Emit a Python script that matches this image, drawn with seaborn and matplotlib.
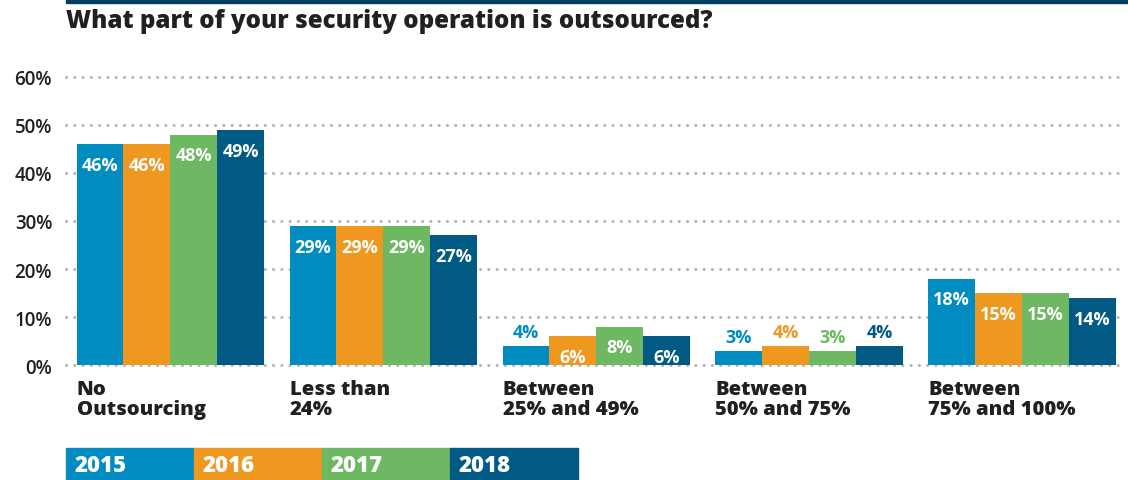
import pandas as pd
import seaborn as sns
import matplotlib.pyplot as plt
from matplotlib.patches import Rectangle
import matplotlib.transforms as mtransforms

# data
categories = ['No\nOutsourcing', 'Less than\n24%', 'Between\n25% and 49%',
              'Between\n50% and 75%', 'Between\n75% and 100%']
years = ['2015', '2016', '2017', '2018']
v2015 = [46, 29, 4, 3, 18]
v2016 = [46, 29, 6, 4, 15]
v2017 = [48, 29, 8, 3, 15]
v2018 = [49, 27, 6, 4, 14]
yticks = [0, 10, 20, 30, 40, 50, 60]

colors = ['#008bc1', '#ee9820', '#6eb763', '#005a83']
dark = '#231f20'

sns.set_theme(style='white')
plt.rcParams['font.family'] = ['Open Sans', 'DejaVu Sans']

df = pd.DataFrame({
    'category': categories * 4,
    'year': [y for y in years for _ in categories],
    'value': v2015 + v2016 + v2017 + v2018,
})

fig = plt.figure(figsize=(11.28, 4.81), dpi=100)
ax = fig.add_axes([66 / 1128, 1 - 366 / 481, (1120 - 66) / 1128, 288 / 481])

sns.barplot(data=df, x='category', y='value', hue='year', palette=colors,
            width=0.88, gap=0, saturation=1, legend=False, ax=ax, zorder=3,
            linewidth=0, edgecolor='none')

ax.set_ylim(0, 60)
ax.set_xlim(-0.49, 4.46)
ax.set_yticks(yticks)
ax.set_yticklabels([f'{t}%' for t in yticks], fontsize=13.5, fontweight='semibold', color=dark)
ax.tick_params(axis='y', length=0, pad=10)
ax.set_xticks([])
ax.set_xlabel('')
ax.set_ylabel('')
for s in ax.spines.values():
    s.set_visible(False)
for t in yticks:
    ax.axhline(t, color='#b3b3b3', lw=2.2, ls=(0, (0.01, 2.7)),
               dash_capstyle='round', zorder=1, clip_on=False)

# value labels: white inside tall bars, coloured above short ones
for cont, col in zip(ax.containers, colors):
    for bar in cont:
        h = bar.get_height()
        xc = bar.get_x() + bar.get_width() / 2
        if h >= 6:
            ax.annotate(f'{h:.0f}%', (xc, h), xytext=(0, -15), textcoords='offset points',
                        ha='center', va='center', color='white', fontsize=13,
                        fontweight='bold', zorder=4)
        else:
            ax.annotate(f'{h:.0f}%', (xc, h), xytext=(0, 10), textcoords='offset points',
                        ha='center', va='center', color=col, fontsize=13,
                        fontweight='bold', zorder=4)

# category labels, left aligned under each group
trans = mtransforms.blended_transform_factory(ax.transData, ax.transAxes)
for i, c in enumerate(categories):
    ax.text(i - 0.44, -0.05, c, transform=trans, ha='left', va='top',
            fontsize=14.6, fontweight='heavy', color=dark, linespacing=1.0)

# title and top rule
fig.add_artist(Rectangle((66 / 1128, 1 - 4 / 481), 1 - 66 / 1128, 4 / 481,
                         transform=fig.transFigure, color='#033d5f'))
fig.text(66 / 1128, 1 - 22 / 481, 'What part of your security operation is outsourced?',
         ha='left', va='center', fontsize=17.4, fontweight='heavy', color=dark)

# legend strip
for k, (yr, col) in enumerate(zip(years, colors)):
    x0 = (66 + 128 * k) / 1128
    fig.add_artist(Rectangle((x0, 0), 128 / 1128, 32 / 481,
                             transform=fig.transFigure, color=col))
    fig.text(x0 + 9 / 1128, 15 / 481, yr, ha='left', va='center',
             fontsize=16, fontweight='heavy', color='white')

fig.savefig('out.png', dpi=100)
